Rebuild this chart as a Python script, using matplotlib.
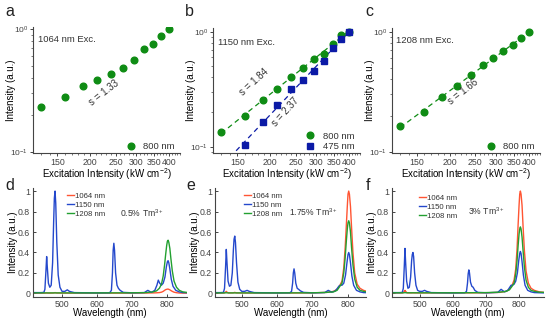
import numpy as np
import matplotlib
matplotlib.use("Agg")
import matplotlib.pyplot as plt
from matplotlib.ticker import FixedLocator, NullFormatter, LogLocator

plt.rcParams['font.family'] = ['Liberation Sans', 'DejaVu Sans']
plt.rcParams['mathtext.fontset'] = 'custom'
plt.rcParams['mathtext.rm'] = 'Liberation Sans'
plt.rcParams['mathtext.it'] = 'Liberation Sans:italic'
plt.rcParams['text.color'] = '#333333'
plt.rcParams['axes.edgecolor'] = '#444444'
plt.rcParams['xtick.color'] = '#444444'
plt.rcParams['ytick.color'] = '#444444'

# ---- top row: power dependence (log-log) ----
power = [130, 160, 187, 213, 240, 267, 293, 320, 347, 373, 400]
a_800 = [0.233, 0.278, 0.347, 0.385, 0.429, 0.483, 0.561, 0.687, 0.754, 0.882, 1.0]
b_800 = [0.133, 0.186, 0.255, 0.315, 0.406, 0.486, 0.582, 0.644, 0.787, 0.935, 1.0]
b_475 = [0.103, 0.165, 0.229, 0.319, 0.380, 0.455, 0.556, 0.716, 0.857, 1.0]
c_800 = [0.164, 0.214, 0.286, 0.355, 0.433, 0.524, 0.604, 0.695, 0.774, 0.880, 1.0]
power_ticks = [150, 200, 250, 300, 350, 400]

# ---- bottom row: emission spectra ----
wl_vis = [418, 440, 448, 451, 454, 456, 458, 461, 465, 469, 473, 476, 478, 480, 482, 485,
          489, 494, 500, 508, 515, 521, 535, 600, 636, 641, 644, 646, 648, 650, 653, 657,
          661, 666, 675, 700, 735, 745, 755, 765, 771, 775, 779, 784, 789, 794, 798, 801,
          803, 805, 808, 812, 817, 825, 835, 845, 875]
d_1150 = [.008, .008, .01, .04, .22, .36, .25, .10, .06, .08, .30, .70, .93, 1.0, .88, .50,
          .18, .06, .02, .02, .035, .02, .008, .005, .006, .03, .20, .42, .49, .42, .20, .08,
          .05, .03, .01, .006, .008, .03, .01, .03, .08, .13, .10, .08, .10, .16, .26, .31,
          .32, .30, .24, .14, .07, .03, .015, .008, .005]
e_1150 = [.008, .008, .01, .05, .26, .43, .30, .12, .07, .08, .20, .42, .53, .56, .50, .30,
          .11, .04, .02, .02, .03, .02, .008, .005, .006, .02, .10, .20, .24, .20, .10, .05,
          .04, .025, .01, .006, .008, .03, .012, .025, .05, .07, .08, .08, .10, .18, .30, .38,
          .40, .38, .30, .17, .08, .03, .015, .008, .005]
f_1150 = [.008, .008, .01, .05, .27, .44, .30, .12, .05, .06, .16, .32, .38, .40, .36, .20,
          .08, .03, .02, .02, .03, .02, .008, .005, .006, .02, .10, .19, .23, .20, .11, .07,
          .06, .03, .01, .006, .01, .04, .015, .03, .06, .08, .08, .09, .12, .20, .32, .39,
          .41, .39, .31, .18, .08, .03, .015, .008, .005]

wl_nir = [418, 450, 454, 456, 458, 462, 475, 480, 485, 520, 600, 700, 740, 760, 770, 778,
          784, 789, 793, 796, 799, 801, 803, 805, 808, 811, 815, 820, 827, 835, 845, 860, 875]
d_1064 = [.003, .003, .004, .005, .004, .003, .004, .008, .004, .003, .003, .003, .004, .005,
          .006, .008, .012, .02, .03, .037, .04, .042, .042, .04, .035, .028, .02, .012, .007,
          .004, .003, .003, .003]
d_1208 = [.005, .005, .005, .005, .005, .005, .005, .005, .005, .005, .005, .006, .008, .015,
          .025, .05, .09, .17, .28, .38, .47, .51, .52, .50, .44, .34, .22, .12, .06, .03,
          .015, .008, .006]
e_1064 = [.004, .004, .012, .02, .012, .005, .005, .01, .005, .004, .004, .005, .01, .02,
          .04, .08, .12, .25, .45, .65, .85, .97, 1.0, .97, .85, .65, .40, .20, .09, .05,
          .03, .015, .01]
e_1208 = [.005, .005, .006, .006, .006, .005, .005, .005, .005, .005, .005, .006, .01, .015,
          .03, .07, .10, .20, .35, .50, .63, .69, .71, .69, .60, .45, .28, .14, .06, .03,
          .02, .01, .008]
f_1064 = [.005, .005, .02, .03, .02, .006, .005, .006, .005, .005, .005, .006, .01, .02,
          .04, .08, .13, .24, .44, .66, .86, .97, 1.0, .97, .86, .66, .42, .22, .10, .05,
          .03, .015, .01]
f_1208 = [.006, .006, .007, .007, .007, .006, .006, .006, .006, .006, .006, .008, .012, .02,
          .035, .07, .10, .19, .32, .46, .58, .63, .65, .63, .55, .42, .26, .13, .06, .03,
          .02, .012, .01]

green = '#0f8c14'
navy = '#0b1aa6'
c_red = '#ff5533'
c_blue = '#2448cc'
c_green = '#22a030'

W, H = 550, 323
fig = plt.figure(figsize=(W / 100, H / 100), dpi=100)


def rect(l, t, r, b):
    return [l / W, 1 - b / H, (r - l) / W, (b - t) / H]


def style(ax, direction):
    ax.spines['top'].set_visible(False)
    ax.spines['right'].set_visible(False)
    ax.spines['left'].set_linewidth(0.8)
    ax.spines['bottom'].set_linewidth(0.8)
    ax.tick_params(which='major', length=2.5, width=0.7, labelsize=6.3, pad=1,
                   direction=direction)
    ax.tick_params(which='minor', length=1.5, width=0.5, direction=direction)


def power_axes(r, ylim, letter, lx):
    ax = fig.add_axes(rect(*r))
    w, h = r[2] - r[0], r[3] - r[1]
    ax.set_xscale('log')
    ax.set_yscale('log')
    ax.set_xlim(121, 440)
    ax.set_ylim(*ylim)
    ax.xaxis.set_major_locator(FixedLocator(power_ticks))
    ax.xaxis.set_major_formatter(plt.FixedFormatter([str(t) for t in power_ticks]))
    ax.xaxis.set_minor_locator(FixedLocator([v for v in range(120, 450, 10) if v not in power_ticks]))
    ax.xaxis.set_minor_formatter(NullFormatter())
    ax.yaxis.set_major_locator(LogLocator(base=10))
    ax.yaxis.set_minor_locator(LogLocator(base=10, subs=np.arange(2, 10)))
    ax.yaxis.set_minor_formatter(NullFormatter())
    style(ax, 'out')
    ax.tick_params(axis='y', which='major', labelsize=6)
    ax.set_xlabel('Excitation Intensity (kW cm$^{-2}$)', fontsize=7)
    ax.set_ylabel('Intensity (a.u.)', fontsize=7)
    ax.xaxis.set_label_coords(0.5, -13.5 / h)
    ax.yaxis.set_label_coords(-17 / w, 0.5)
    fig.text(lx / W, 1 - 12 / H, letter, fontsize=11.5, va='center', ha='left', color='#222222')
    return ax


def fit_line(ax, x, y, x0, x1, color):
    k, b = np.polyfit(np.log10(x), np.log10(y), 1)
    xs = np.array([x0, x1])
    ax.plot(xs, 10 ** (k * np.log10(xs) + b), ls=(0, (4, 3)), lw=0.9, color=color, zorder=1)


ann = dict(fontsize=7, ha='center', va='center')
leg_top = dict(loc='lower right', bbox_to_anchor=(1.0, -0.03), frameon=False, fontsize=6.8,
               handletextpad=0.3, borderaxespad=0.2, labelspacing=0.15)

# a
ax = power_axes((33, 27, 180, 153), (0.0976, 1.044), 'a', 5)
ax.plot(power, a_800, 'o', ms=4.8, color=green, label='800 nm')
ax.text(0.036, 0.897, '1064 nm Exc.', transform=ax.transAxes, fontsize=6.8, va='center')
ax.text(0.48, 0.48, 's = 1.33', transform=ax.transAxes, rotation=38, **ann)
ax.legend(**leg_top)

# b
ax = power_axes((213, 28, 360, 153), (0.088, 1.077), 'b', 185)
fit_line(ax, power, b_800, 130, 400, green)
fit_line(ax, power[1:], b_475, 120, 400, navy)
ax.plot(power, b_800, 'o', ms=4.8, color=green, label='800 nm', zorder=3)
ax.plot(power[1:], b_475, 's', ms=4.0, color=navy, label='475 nm', zorder=4)
ax.text(0.034, 0.88, '1150 nm Exc.', transform=ax.transAxes, fontsize=6.8, va='center')
ax.text(0.28, 0.565, 's = 1.84', transform=ax.transAxes, rotation=42, **ann)
ax.text(0.49, 0.33, 's = 2.37', transform=ax.transAxes, rotation=48, **ann)
ax.legend(**leg_top)

# c
ax = power_axes((392, 28, 540, 153), (0.0975, 1.073), 'c', 365)
fit_line(ax, power, c_800, 130, 400, green)
ax.plot(power, c_800, 'o', ms=4.8, color=green, label='800 nm', zorder=3)
ax.text(0.027, 0.896, '1208 nm Exc.', transform=ax.transAxes, fontsize=6.8, va='center')
ax.text(0.48, 0.49, 's = 1.66', transform=ax.transAxes, rotation=38, **ann)
ax.legend(**leg_top)


# bottom spectra
def spec_axes(r, xlim, letter, lx, series, note, note_xy, leg_anchor):
    ax = fig.add_axes(rect(*r))
    w, h = r[2] - r[0], r[3] - r[1]
    r1064, b1150, g1208 = series
    ax.plot(wl_nir, r1064, color=c_red, lw=1.0, label='1064 nm')
    ax.plot(wl_vis, b1150, color=c_blue, lw=1.0, label='1150 nm')
    ax.plot(wl_nir, g1208, color=c_green, lw=1.0, label='1208 nm')
    ax.set_xlim(*xlim)
    ax.set_ylim(-0.035, 1.03)
    ax.set_xticks([500, 600, 700, 800])
    ax.set_yticks([0, 0.2, 0.4, 0.6, 0.8, 1.0])
    ax.set_yticklabels(['0', '0.2', '0.4', '0.6', '0.8', '1'])
    style(ax, 'in')
    ax.tick_params(which='major', pad=2)
    ax.set_xlabel('Wavelength (nm)', fontsize=7)
    ax.set_ylabel('Intensity (a.u.)', fontsize=7)
    ax.xaxis.set_label_coords(0.5, -10.5 / h)
    ax.yaxis.set_label_coords(-15 / w, 0.5)
    ax.text(note_xy[0], note_xy[1], note, transform=ax.transAxes, fontsize=6.2,
            ha='center', va='center')
    ax.legend(loc='upper left', bbox_to_anchor=leg_anchor, frameon=False, fontsize=5.6,
              handlelength=0.9, handletextpad=0.1, labelspacing=0.2, borderaxespad=0)
    fig.text(lx / W, 1 - 186 / H, letter, fontsize=11.5, va='center', ha='left', color='#222222')
    return ax


spec_axes((33, 188, 187, 297), (417, 857), 'd', 5, (d_1064, d_1150, d_1208),
          '0.5% Tm$^{3+}$', (0.71, 0.77), (0.2, 0.99))
spec_axes((215, 188, 366, 297), (424, 852), 'e', 186, (e_1064, e_1150, e_1208),
          '1.75% Tm$^{3+}$', (0.65, 0.78), (0.17, 0.99))
spec_axes((392, 188, 544, 297), (417, 874), 'f', 366, (f_1064, f_1150, f_1208),
          '3% Tm$^{3+}$', (0.62, 0.79), (0.16, 0.97))

fig.savefig('out.png', dpi=100)
